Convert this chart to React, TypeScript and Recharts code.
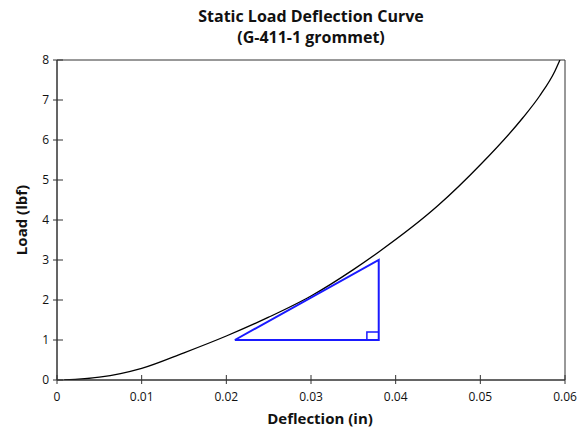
import { LineChart, Line, XAxis, YAxis, ReferenceArea } from "recharts";

const deflection = [0.00085, 0.005, 0.0075, 0.01, 0.015, 0.02, 0.025, 0.03, 0.035, 0.038, 0.045, 0.05, 0.055, 0.057, 0.0588, 0.0594];
const load = [0, 0.07, 0.16, 0.29, 0.68, 1.1, 1.57, 2.1, 2.76, 3.2, 4.36, 5.38, 6.55, 7.1, 7.72, 8.0];

// slope triangle + right-angle marker
const triX = [0.021, 0.038, 0.038, 0.021];
const triY = [1, 1, 3, 1];
const markX = [0.0366, 0.0366, 0.038];
const markY = [1, 1.2, 1.2];

const xTicks = [0, 0.01, 0.02, 0.03, 0.04, 0.05, 0.06];
const xTickLabels = ["0", "0.01", "0.02", "0.03", "0.04", "0.05", "0.06"];
const yTicks = [0, 1, 2, 3, 4, 5, 6, 7, 8];

const curveData = deflection.map((d, i) => ({ d, load: load[i] }));
const triData = triX.map((d, i) => ({ d, v: triY[i] }));
const markData = markX.map((d, i) => ({ d, v: markY[i] }));

const FONT = "'Open Sans', 'Noto Sans', sans-serif";
const AXIS = "#333";

function YTick({ x, y, payload }: any) {
  return (
    <g>
      <line x1={x - 4} x2={x + 6} y1={y} y2={y} stroke={AXIS} />
      <text x={x - 8} y={y} dy="0.35em" textAnchor="end" fontSize={12} fontFamily={FONT} fill="#111">
        {payload.value}
      </text>
    </g>
  );
}

function XTick({ x, y, payload, index }: any) {
  return (
    <g>
      <line x1={x} x2={x} y1={y - 5} y2={y + 4} stroke={AXIS} />
      <text x={x} y={y + 12} dy="0.71em" textAnchor="middle" fontSize={12} fontFamily={FONT} fill="#111">
        {xTickLabels[index] ?? payload.value}
      </text>
    </g>
  );
}

export default function App() {
  return (
    <div style={{ position: "absolute", left: 0, top: 0, width: 588, height: 430, background: "#fff", fontFamily: FONT }}>
      <div
        style={{
          position: "absolute",
          left: 0,
          top: 6,
          width: 622,
          textAlign: "center",
          fontWeight: 700,
          fontSize: 16,
          lineHeight: "21px",
          color: "#111",
        }}
      >
        Static Load Deflection Curve
        <br />
        (G-411-1 grommet)
      </div>
      <LineChart width={588} height={430} margin={{ top: 60, right: 23, bottom: 10, left: 17 }}>
        <XAxis
          dataKey="d"
          type="number"
          domain={[0, 0.06]}
          ticks={xTicks}
          height={40}
          tickSize={0}
          tickMargin={0}
          tickLine={false}
          tick={<XTick />}
          axisLine={{ stroke: AXIS }}
          allowDataOverflow
          label={{
            value: "Deflection (in)",
            position: "insideBottom",
            offset: -4,
            dx: 9,
            style: { fontFamily: FONT, fontSize: 15, fontWeight: 700, fill: "#111" },
          }}
        />
        <YAxis
          type="number"
          domain={[0, 8]}
          ticks={yTicks}
          width={40}
          tickSize={0}
          tickMargin={0}
          tickLine={false}
          tick={<YTick />}
          axisLine={{ stroke: AXIS }}
          allowDataOverflow
          label={{
            value: "Load (lbf)",
            angle: -90,
            position: "insideLeft",
            offset: 5,
            style: { fontFamily: FONT, fontSize: 15, fontWeight: 700, fill: "#111", textAnchor: "middle" },
          }}
        />
        <ReferenceArea x1={0} x2={0.06} y1={0} y2={8} fill="none" fillOpacity={0} stroke={AXIS} strokeWidth={1} />
        <Line data={curveData} dataKey="load" type="monotone" stroke="#000" strokeWidth={1.3} dot={false} isAnimationActive={false} />
        <Line data={triData} dataKey="v" type="linear" stroke="#1a1aff" strokeWidth={2} dot={false} isAnimationActive={false} />
        <Line data={markData} dataKey="v" type="linear" stroke="#1a1aff" strokeWidth={1.5} dot={false} isAnimationActive={false} />
      </LineChart>
    </div>
  );
}
